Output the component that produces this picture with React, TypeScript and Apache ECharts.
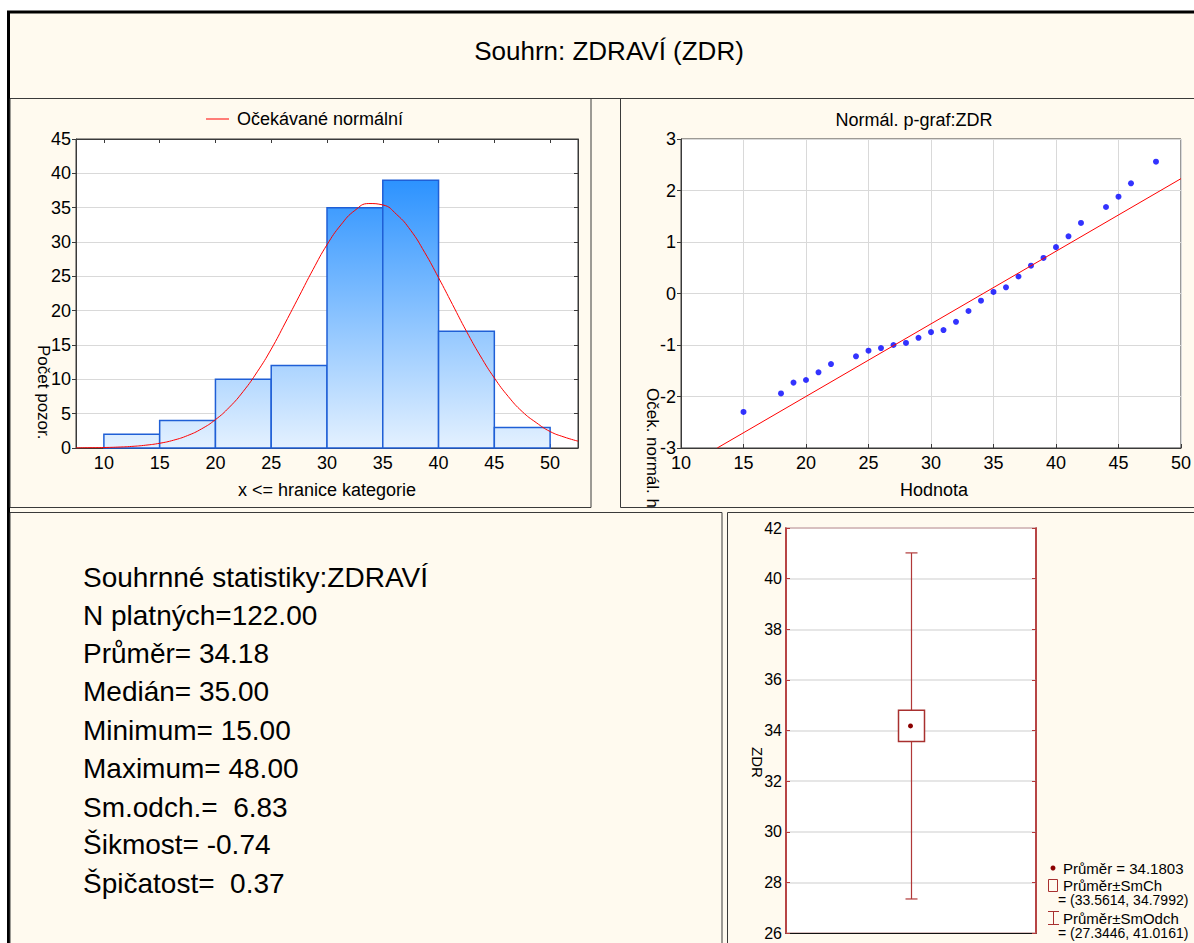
import React, { useEffect, useRef } from "react";
import * as echarts from "echarts";

const FONT = '"Liberation Sans", Arial, sans-serif';
const CREAM = "#FFFAEF";
const PANEL = "#3A3A3A";
const DARKRED = "#A8302F";

// Histogram (bins of width 5)
const histEdges = [10, 15, 20, 25, 30, 35, 40, 45, 50];
const histCounts = [2, 4, 10, 12, 35, 39, 17, 3];
const histTicks = [10, 15, 20, 25, 30, 35, 40, 45, 50];

// Expected normal curve
const normalX = [7.5, 8.75, 10, 11.25, 12.5, 13.75, 15, 16.25, 17.5, 18.75, 20, 21.25, 22.5, 23.75, 25, 26.25, 27.5, 28.75, 30, 31.25, 32.5, 33.75, 35, 36.25, 37.5, 38.75, 40, 41.25, 42.5, 43.75, 45, 46.25, 47.5, 48.75, 50, 51.25, 52.5];
const normalY = [0.02, 0.04, 0.07, 0.13, 0.23, 0.41, 0.69, 1.14, 1.81, 2.78, 4.13, 5.94, 8.26, 11.1, 14.4, 18.2, 22.1, 26.0, 29.6, 32.5, 34.6, 35.6, 35.4, 34.0, 31.7, 28.5, 24.8, 20.9, 17.0, 13.4, 10.2, 7.5, 5.3, 3.7, 2.4, 1.6, 1.0];

// Normal probability plot
const qqX = [15, 18, 19, 20, 21, 22, 24, 25, 26, 27, 28, 29, 30, 31, 32, 33, 34, 35, 36, 37, 38, 39, 40, 41, 42, 44, 45, 46, 48];
const qqY = [-2.3, -1.94, -1.73, -1.68, -1.53, -1.37, -1.22, -1.11, -1.06, -1.0, -0.96, -0.86, -0.75, -0.71, -0.55, -0.34, -0.14, 0.03, 0.12, 0.33, 0.54, 0.69, 0.9, 1.11, 1.37, 1.68, 1.88, 2.14, 2.56];
const qqLineX = [12.9, 50];
const qqLineY = [-3, 2.23];

// Box plot: mean ± SE, mean ± SD
const boxValues = [27.3446, 33.5614, 34.1803, 34.7992, 41.0161];

// Summary statistics
const statsLines = [
  "Souhrnné statistiky:ZDRAVÍ",
  "N platných=122.00",
  "Průměr= 34.18",
  "Medián= 35.00",
  "Minimum= 15.00",
  "Maximum= 48.00",
  "Sm.odch.=  6.83",
  "Šikmost= -0.74",
  "Špičatost=  0.37",
];
const statsY = [577, 615, 653, 691, 730, 768, 807, 844, 883];

function txt(text: string, x: number, y: number, size: number, align = "left", extra: any = {}) {
  return {
    type: "text",
    x,
    y,
    z: 10,
    ...extra,
    style: {
      text,
      fontSize: size,
      fontFamily: FONT,
      fill: "#000",
      align,
      verticalAlign: "middle",
      textAlign: align,
      textVerticalAlign: "middle",
    },
  };
}

export default function App() {
  const ref = useRef<HTMLDivElement>(null);

  useEffect(() => {
    if (!ref.current) return;
    const chart = echarts.init(ref.current, null, { renderer: "svg" });

    const barFill = new echarts.graphic.LinearGradient(
      0, 139, 0, 448,
      [
        { offset: 0, color: "#1084FF" },
        { offset: 1, color: "#E4F1FF" },
      ],
      true
    );

    const labelStyle = { fontSize: 18, fontFamily: FONT, color: "#000" };

    const graphic: any[] = [
      // outer frame
      { type: "rect", z: -3, shape: { x: 8.5, y: 12, width: 1200, height: 950 }, style: { fill: CREAM, stroke: "#000", lineWidth: 3 } },
      // title separator
      { type: "line", z: -1, shape: { x1: 10, y1: 98.5, x2: 1194, y2: 98.5 }, style: { stroke: PANEL, lineWidth: 1 } },
      // panels
      { type: "rect", z: -1, shape: { x: 10, y: 98.5, width: 581, height: 409 }, style: { fill: "none", stroke: PANEL, lineWidth: 1 } },
      { type: "rect", z: -1, shape: { x: 620.5, y: 98.5, width: 600, height: 409 }, style: { fill: "none", stroke: PANEL, lineWidth: 1 } },
      // rotated y title of p-plot (clipped by panels below)
      txt("Oček. normál. hodnota", 652, 388, 17, "left", { z: -2, rotation: -Math.PI / 2 }),
      { type: "rect", z: -1, shape: { x: 621, y: 508.2, width: 105, height: 4 }, style: { fill: CREAM } },
      { type: "rect", z: -1, shape: { x: 10, y: 512.5, width: 712, height: 450 }, style: { fill: CREAM, stroke: PANEL, lineWidth: 1 } },
      { type: "rect", z: -1, shape: { x: 727.5, y: 512.5, width: 500, height: 450 }, style: { fill: CREAM, stroke: PANEL, lineWidth: 1 } },

      // main title
      txt("Souhrn: ZDRAVÍ (ZDR)", 609, 51, 26, "center"),

      // histogram legend + titles
      { type: "line", z: 10, shape: { x1: 206, y1: 119, x2: 229, y2: 119 }, style: { stroke: "#FF0000", lineWidth: 1 } },
      txt("Očekávané normální", 237, 119, 18),
      txt("x <= hranice kategorie", 327, 490, 18, "center"),
      txt("Počet pozor.", 43, 345, 17, "left", { rotation: -Math.PI / 2 }),

      // p-plot titles
      txt("Normál. p-graf:ZDR", 914, 120, 18, "center"),
      txt("Hodnota", 934, 490, 18, "center"),

      // box plot title
      txt("ZDR", 757, 747, 15, "left", { rotation: -Math.PI / 2 }),

      // box plot legend
      { type: "circle", z: 10, shape: { cx: 1053, cy: 868, r: 2.5 }, style: { fill: "#8B0000" } },
      txt(`Průměr = ${boxValues[2].toFixed(4)}`, 1063, 868, 15),
      { type: "rect", z: 10, shape: { x: 1048.5, y: 879.5, width: 9, height: 12 }, style: { fill: "none", stroke: DARKRED, lineWidth: 1 } },
      txt("Průměr±SmCh", 1063, 885, 15),
      txt(`= (${boxValues[1].toFixed(4)}, ${boxValues[3].toFixed(4)})`, 1058, 900, 14),
      { type: "line", z: 10, shape: { x1: 1053.5, y1: 911, x2: 1053.5, y2: 925 }, style: { stroke: DARKRED, lineWidth: 1 } },
      { type: "line", z: 10, shape: { x1: 1048, y1: 911.5, x2: 1059, y2: 911.5 }, style: { stroke: DARKRED, lineWidth: 1 } },
      { type: "line", z: 10, shape: { x1: 1048, y1: 924.5, x2: 1059, y2: 924.5 }, style: { stroke: DARKRED, lineWidth: 1 } },
      txt("Průměr±SmOdch", 1063, 918, 15),
      txt(`= (${boxValues[0].toFixed(4)}, ${boxValues[4].toFixed(4)})`, 1058, 933, 14),
    ];

    statsLines.forEach((s, i) => graphic.push(txt(s, 83, statsY[i], 28)));

    const option: any = {
      animation: false,
      backgroundColor: "#ffffff",
      graphic,
      grid: [
        { left: 76, top: 139, width: 502, height: 309, show: true, backgroundColor: "#fff", borderColor: "#3A3A3A", borderWidth: 1 },
        { left: 681, top: 139, width: 506, height: 309, show: true, backgroundColor: "#fff", borderColor: "#3A3A3A", borderWidth: 1 },
        { left: 786, top: 528, width: 250, height: 405, show: true, backgroundColor: "#fff", borderColor: "#B23A3A", borderWidth: 1.5 },
      ],
      xAxis: [
        {
          gridIndex: 0, type: "value", min: 7.5, max: 52.5,
          axisLine: { onZero: false, lineStyle: { color: "#3A3A3A" } },
          axisTick: { inside: true, length: 4, customValues: histTicks, lineStyle: { color: "#3A3A3A" } },
          axisLabel: { ...labelStyle, margin: 6, customValues: histTicks },
          splitLine: { show: false },
        },
        {
          gridIndex: 0, type: "value", min: 7.5, max: 52.5, position: "top",
          axisLine: { onZero: false, lineStyle: { color: "#3A3A3A" } },
          axisTick: { inside: true, length: 4, customValues: histTicks, lineStyle: { color: "#3A3A3A" } },
          axisLabel: { show: false },
          splitLine: { show: false },
        },
        {
          gridIndex: 1, type: "value", min: 10, max: 50, interval: 5,
          axisLine: { onZero: false, lineStyle: { color: "#3A3A3A" } },
          axisTick: { inside: true, length: 4, lineStyle: { color: "#3A3A3A" } },
          axisLabel: { ...labelStyle, margin: 6 },
          splitLine: { show: true, lineStyle: { color: "#D9D9D9" } },
        },
        {
          gridIndex: 2, type: "value", min: 0, max: 1,
          axisLine: { onZero: false, lineStyle: { color: "#111" } },
          axisTick: { show: false },
          axisLabel: { show: false },
          splitLine: { show: false },
        },
      ],
      yAxis: [
        {
          gridIndex: 0, type: "value", min: 0, max: 45, interval: 5,
          axisLine: { show: true, onZero: false, lineStyle: { color: "#3A3A3A" } },
          axisTick: { show: true, length: 4, lineStyle: { color: "#3A3A3A" } },
          axisLabel: { ...labelStyle, margin: 5 },
          splitLine: { show: true, lineStyle: { color: "#D9D9D9" } },
        },
        {
          gridIndex: 0, type: "value", min: 0, max: 45, interval: 5, position: "right",
          axisLine: { show: true, onZero: false, lineStyle: { color: "#3A3A3A" } },
          axisTick: { show: true, inside: true, length: 4, lineStyle: { color: "#3A3A3A" } },
          axisLabel: { show: false },
          splitLine: { show: false },
        },
        {
          gridIndex: 1, type: "value", min: -3, max: 3, interval: 1,
          axisLine: { show: true, onZero: false, lineStyle: { color: "#3A3A3A" } },
          axisTick: { show: true, length: 4, lineStyle: { color: "#3A3A3A" } },
          axisLabel: { ...labelStyle, margin: 5 },
          splitLine: { show: true, lineStyle: { color: "#D9D9D9" } },
        },
        {
          gridIndex: 2, type: "value", min: 26, max: 42, interval: 2,
          axisLine: { show: true, onZero: false, lineStyle: { color: "#B23A3A", width: 1.5 } },
          axisTick: { show: true, inside: true, length: 4, lineStyle: { color: "#B23A3A" } },
          axisLabel: { fontSize: 16, fontFamily: FONT, color: "#000", margin: 4 },
          splitLine: { show: true, lineStyle: { color: "#DEDEDE", width: 1.5 } },
        },
        {
          gridIndex: 2, type: "value", min: 26, max: 42, interval: 2, position: "right",
          axisLine: { show: true, onZero: false, lineStyle: { color: "#B23A3A", width: 1.5 } },
          axisTick: { show: true, inside: true, length: 4, lineStyle: { color: "#B23A3A" } },
          axisLabel: { show: false },
          splitLine: { show: false },
        },
      ],
      series: [
        {
          type: "custom",
          xAxisIndex: 0,
          yAxisIndex: 0,
          z: 2,
          data: histCounts.map((c, i) => [histEdges[i], histEdges[i + 1], c]),
          encode: { x: [0, 1], y: 2 },
          renderItem: (params: any, api: any) => {
            const lo = api.coord([api.value(0), 0]);
            const hi = api.coord([api.value(1), api.value(2)]);
            return {
              type: "rect",
              shape: { x: lo[0], y: hi[1], width: hi[0] - lo[0], height: lo[1] - hi[1] },
              style: { fill: barFill, stroke: "#1F5FD6", lineWidth: 1.5 },
            };
          },
        },
        {
          type: "line",
          xAxisIndex: 0,
          yAxisIndex: 0,
          z: 3,
          smooth: true,
          showSymbol: false,
          symbol: "none",
          lineStyle: { color: "#FF0000", width: 1 },
          data: normalX.map((x, i) => [x, normalY[i]]),
        },
        {
          type: "scatter",
          xAxisIndex: 2,
          yAxisIndex: 2,
          z: 3,
          symbolSize: 6,
          itemStyle: { color: "#0000FF" },
          data: qqX.map((x, i) => [x, qqY[i]]),
        },
        {
          type: "line",
          xAxisIndex: 2,
          yAxisIndex: 2,
          z: 4,
          showSymbol: false,
          symbol: "none",
          lineStyle: { color: "#FF0000", width: 1 },
          data: qqLineX.map((x, i) => [x, qqLineY[i]]),
        },
        {
          type: "custom",
          xAxisIndex: 3,
          yAxisIndex: 3,
          z: 3,
          data: [[0.5, ...boxValues]],
          encode: { x: 0, y: [1, 2, 3, 4, 5] },
          renderItem: (params: any, api: any) => {
            const xv = api.value(0);
            const pLow = api.coord([xv, api.value(1)]);
            const pSeLow = api.coord([xv, api.value(2)]);
            const pMean = api.coord([xv, api.value(3)]);
            const pSeHigh = api.coord([xv, api.value(4)]);
            const pHigh = api.coord([xv, api.value(5)]);
            const x = Math.round(pMean[0]) + 0.5;
            const st = { stroke: "#B03838", lineWidth: 1.2 };
            return {
              type: "group",
              children: [
                { type: "line", shape: { x1: x, y1: pHigh[1], x2: x, y2: pLow[1] }, style: st },
                { type: "line", shape: { x1: x - 6, y1: pHigh[1], x2: x + 6, y2: pHigh[1] }, style: st },
                { type: "line", shape: { x1: x - 6, y1: pLow[1], x2: x + 6, y2: pLow[1] }, style: st },
                {
                  type: "rect",
                  shape: { x: x - 13, y: pSeHigh[1], width: 26, height: pSeLow[1] - pSeHigh[1] },
                  style: { fill: "#fff", stroke: DARKRED, lineWidth: 1.5 },
                },
                { type: "circle", shape: { cx: x - 1, cy: pMean[1], r: 2.5 }, style: { fill: "#8B0000" } },
              ],
            };
          },
        },
      ],
    };

    chart.setOption(option);
    return () => chart.dispose();
  }, []);

  return (
    <div
      ref={ref}
      style={{ position: "fixed", left: 0, top: 0, width: 1194, height: 943, background: "#fff" }}
    />
  );
}
